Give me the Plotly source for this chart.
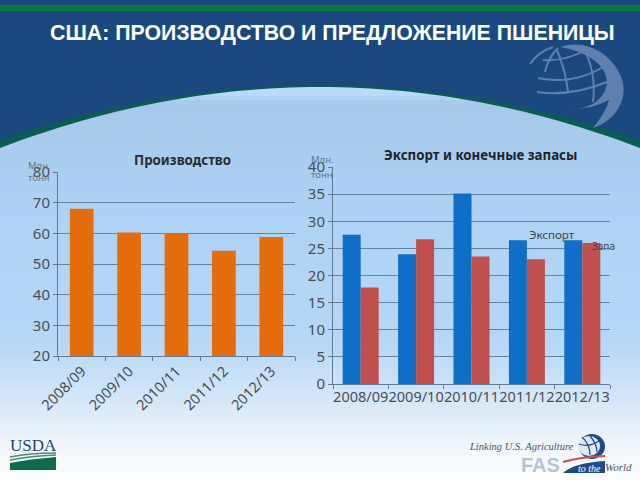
import plotly.graph_objects as go

categories = ["2008/09", "2009/10", "2010/11", "2011/12", "2012/13"]
production = [68.0, 60.3, 60.0, 54.3, 58.8]
exports = [27.5, 23.9, 35.1, 26.5, 26.5]
stocks = [17.8, 26.7, 23.5, 23.0, 26.0]

W, H = 640, 480
px = lambda x: x / W
py = lambda y: 1 - y / H

TICK = "#4a4e54"
GRID = "#6383a5"
AXIS = "#5f7a96"

fig = go.Figure()
fig.add_trace(go.Bar(x=categories, y=production, marker_color="#e46c0a", width=0.5,
                     marker_line_width=0, xaxis="x", yaxis="y", showlegend=False))
fig.add_trace(go.Bar(x=categories, y=exports, name="Экспорт", marker_color="#0f6fc6",
                     marker_line_width=0, xaxis="x2", yaxis="y2", showlegend=False))
fig.add_trace(go.Bar(x=categories, y=stocks, name="Запасы", marker_color="#c0504d",
                     marker_line_width=0, xaxis="x2", yaxis="y2", showlegend=False))

shapes = []
def lerp(c1, c2, t):
    return tuple(int(round(a + (b - a) * t)) for a, b in zip(c1, c2))

stops = [(80, (186, 219, 250)), (92, (184, 217, 248)), (102, (165, 201, 235)), (135, (168, 203, 238)),
         (210, (174, 210, 245)), (340, (182, 215, 246)), (400, (214, 232, 248)),
         (440, (238, 245, 251)), (480, (253, 254, 255))]
for y in range(80, 480, 4):
    for (y0, c0), (y1, c1) in zip(stops, stops[1:]):
        if y0 <= y <= y1:
            c = lerp(c0, c1, (y - y0) / (y1 - y0))
            break
    shapes.append(dict(type="rect", xref="paper", yref="paper", x0=0, x1=1,
                       y0=py(min(y + 6, H)), y1=py(y), fillcolor="rgb(%d,%d,%d)" % c,
                       line_width=0, layer="below"))

def dome(y_edge, y_ctrl, color):
    n = 64
    pts = []
    for i in range(n + 1):
        t = i / n
        xx = W * t
        yy = (1 - t) ** 2 * y_edge + 2 * t * (1 - t) * y_ctrl + t ** 2 * y_edge
        pts.append((px(xx), py(yy)))
    d = "M 0,1 L 1,1 L 1,%f " % pts[-1][1] + " ".join("L %f,%f" % p for p in reversed(pts)) + " Z"
    shapes.append(dict(type="path", xref="paper", yref="paper", path=d, fillcolor=color,
                       line_width=0, layer="below"))

dome(148, 26, "#0b5c55")
dome(140, 30, "#1c4880")
shapes.append(dict(type="rect", xref="paper", yref="paper", x0=0, x1=1, y0=py(11), y1=py(5),
                   fillcolor="#0b7a3a", line_width=0, layer="below"))

def P(x, y):
    return "%f,%f" % (px(x), py(y))

def fill_path(d, color):
    shapes.append(dict(type="path", xref="paper", yref="paper", path=d, fillcolor=color,
                       line_width=0, layer="below"))

def curve(a, c, b, color, width):
    shapes.append(dict(type="path", xref="paper", yref="paper",
                       path="M %s Q %s %s" % (P(*a), P(*c), P(*b)),
                       line=dict(color=color, width=width), layer="below"))

# faint globe on the header
GLOBE = "#5f80ad"
fill_path("M %s C %s %s %s C %s %s %s Q %s %s Q %s %s C %s %s %s Z" % (
    P(560, 47), P(598, 34), P(632, 74), P(622, 100),
    P(618, 114), P(606, 124), P(593, 128),
    P(606, 112), P(609, 100),
    P(590, 110), P(568, 109),
    P(612, 112), P(630, 60), P(560, 47)), GLOBE)
for a, c, b in [((530, 64), (538, 52), (553, 47)),
                ((543, 60), (565, 62), (590, 48)),
                ((538, 78), (575, 86), (610, 63)),
                ((537, 92), (570, 97), (607, 82)),
                ((545, 72), (548, 58), (558, 48)),
                ((557, 50), (566, 72), (568, 92)),
                ((582, 45), (597, 72), (593, 102))]:
    curve(a, c, b, GLOBE, 2)

# footer marks
NAVY = "#1f4a8c"
fill_path("M %s Q %s %s L %s L %s Z" % (P(10, 463), P(30, 459), P(56, 457), P(56, 470), P(10, 470)), "#0f6a4a")
curve((10, 457), (30, 453), (56, 453), "#4f8a70", 1.5)
curve((10, 460), (30, 456), (56, 455), "#4f8a70", 1.5)
shapes.append(dict(type="circle", xref="paper", yref="paper", x0=px(579), x1=px(605), y0=py(459), y1=py(434),
                   fillcolor=NAVY, line_width=0, layer="below"))
shapes.append(dict(type="circle", xref="paper", yref="paper", x0=px(578), x1=px(600), y0=py(456), y1=py(436),
                   fillcolor="#dfe9f3", line_width=0, layer="below"))
for a, c, b in [((579, 444), (590, 448), (600, 440)), ((582, 437), (590, 444), (590, 455)),
                ((590, 436), (597, 444), (597, 452))]:
    curve(a, c, b, NAVY, 1.2)
fill_path("M %s Q %s %s L %s L %s Z" % (P(563, 473), P(574, 463), P(605, 461), P(605, 473), P(563, 473)), NAVY)
curve((563, 462), (580, 457), (605, 456), "#c9504f", 2)

def note(x, y, text, size, color, family="Noto Sans", bold=False, anchor="left"):
    txt = "<b>%s</b>" % text if bold else text
    fig.add_annotation(x=px(x), y=py(y), xref="paper", yref="paper", text=txt, showarrow=False,
                       xanchor=anchor, yanchor="middle", borderpad=0, borderwidth=0,
                       font=dict(family=family, size=size, color=color))

note(50, 33, "США: ПРОИЗВОДСТВО И ПРЕДЛОЖЕНИЕ ПШЕНИЦЫ", 21.3, "#ffffff", "Liberation Sans", True)
note(182, 160, "Производство", 13.3, "#2a2d30", bold=True, anchor="center")
note(480, 155, "Экспорт и конечные запасы", 13.3, "#202428", bold=True, anchor="center")
note(28, 165, "Млн.", 9.5, "#66778a")
note(28, 177, "тонн", 9.5, "#66778a")
note(311, 159, "Млн.", 9.5, "#66778a")
note(311, 174, "тонн", 9.5, "#66778a")
note(529, 234, "Экспорт", 11.5, "#3d4650")
note(592, 246, "Запа", 10, "#3d4650")
note(10, 445, "USDA", 17, "#1f3f7a", "Liberation Serif")
note(469, 446, "<i>Linking U.S. Agriculture</i>", 10.5, "#4a5560", "Liberation Serif")
note(521, 464.5, "<b>FAS</b>", 20, "#b9c4cf", "Liberation Sans")
note(578, 468, "<i>to the</i>", 10, "#ffffff", "Liberation Serif")
note(605, 467, "<i>World</i>", 11, "#4a5560", "Liberation Serif")

def yaxis(domain, rng, dtick, anchor):
    return dict(domain=domain, range=rng, dtick=dtick, anchor=anchor, automargin=False, showgrid=True, gridcolor=GRID,
                gridwidth=1, showline=True, linecolor=AXIS, linewidth=1, ticks="outside", ticklen=4,
                tickcolor=AXIS, zeroline=False, tickfont=dict(family="Noto Sans", size=15, color=TICK))

def xaxis(domain, anchor, angle):
    return dict(domain=domain, anchor=anchor, automargin=False, type="category", tickson="boundaries", showgrid=False,
                showline=True, linecolor=AXIS, linewidth=1, ticks="outside", ticklen=4, tickcolor=AXIS,
                tickangle=angle, tickfont=dict(family="Noto Sans", size=14.5, color=TICK))

fig.update_layout(
    width=W, height=H, autosize=False,
    margin=dict(l=0, r=0, t=0, b=0, autoexpand=False),
    paper_bgcolor="#ffffff", plot_bgcolor="rgba(0,0,0,0)",
    barmode="group", bargap=0.35, bargroupgap=0,
    shapes=shapes,
    xaxis=xaxis([px(58), px(295)], "y", -45),
    yaxis=yaxis([py(356), py(172)], [20, 80], 10, "x"),
    xaxis2=xaxis([px(333), px(610)], "y2", 0),
    yaxis2=yaxis([py(384), py(167)], [0, 40], 5, "x2"),
)
fig.write_html("out.html", config={"displayModeBar": False},
               post_script="document.body.style.margin='0';document.body.style.overflow='hidden';")
